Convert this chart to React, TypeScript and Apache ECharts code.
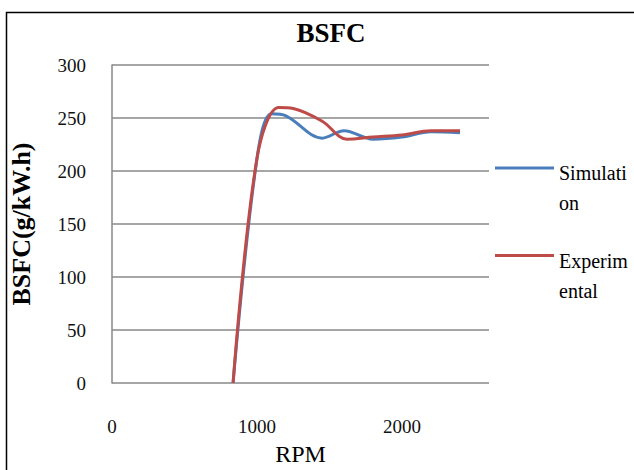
import React, { useEffect, useRef } from "react";
import * as echarts from "echarts";

const xTicks = [0, 1000, 2000];
const yTicks = [0, 50, 100, 150, 200, 250, 300];
const simRpm = [835, 1000, 1100, 1200, 1450, 1600, 1800, 2000, 2200, 2400];
const simBsfc = [0, 212, 254, 252, 231, 238, 230, 232, 237, 236];
const expRpm = [835, 1000, 1150, 1250, 1450, 1620, 1800, 2000, 2200, 2400];
const expBsfc = [0, 212, 260, 259, 247, 230, 232, 234, 238, 238];
const seriesNames = ["Simulation", "Experimental"];
const legendLabels = ["Simulati\non", "Experim\nental"];

const FONT = "'Liberation Serif', 'Times New Roman', serif";
const LEGEND_ICON = "path://M0,0L59,0L59,3L0,3Z M0,42.99L0.01,42.99L0.01,43L0,43Z";

export default function App() {
  const ref = useRef<HTMLDivElement>(null);
  useEffect(() => {
    if (!ref.current) return;
    const chart = echarts.init(ref.current, undefined, { renderer: "svg" });
    const pairs = (xs: number[], ys: number[]) => xs.map((x, i) => [x, ys[i]]);
    chart.setOption({
      animation: false,
      backgroundColor: "#fff",
      textStyle: { fontFamily: FONT },
      title: {
        text: "BSFC",
        left: 331,
        textAlign: "center",
        top: 19,
        padding: 0,
        textStyle: { fontFamily: FONT, fontSize: 27, fontWeight: "bold", color: "#000" },
      },
      graphic: [
        {
          type: "rect",
          shape: { x: 6.5, y: 12.5, width: 700, height: 500 },
          style: { fill: "none", stroke: "#000", lineWidth: 1.5 },
          silent: true,
        },
      ],
      legend: {
        orient: "vertical",
        left: 495,
        top: 158,
        padding: 0,
        itemGap: 27.5,
        itemWidth: 59,
        itemHeight: 43,
        icon: LEGEND_ICON,
        data: seriesNames,
        formatter: (name: string) => legendLabels[seriesNames.indexOf(name)],
        textStyle: {
          fontFamily: FONT,
          fontSize: 20,
          color: "#000",
          lineHeight: 30,
        },
      },
      grid: { left: 112, top: 65, right: 145, bottom: 87, outerBoundsMode: "none", containLabel: false },
      xAxis: {
        type: "value",
        min: xTicks[0],
        max: 2600,
        interval: 1000,
        name: "RPM",
        nameLocation: "middle",
        nameGap: 59,
        nameTextStyle: { fontFamily: FONT, fontSize: 24, color: "#000" },
        axisLine: { show: false },
        axisTick: { show: false },
        splitLine: { show: false },
        axisLabel: {
          margin: 34,
          fontFamily: FONT,
          fontSize: 19,
          color: "#111",
          showMaxLabel: false,
          formatter: (v: number) => (xTicks.includes(v) ? String(v) : ""),
        },
      },
      yAxis: {
        type: "value",
        min: yTicks[0],
        max: yTicks[yTicks.length - 1],
        interval: 50,
        name: "BSFC(g/kW.h)",
        nameLocation: "middle",
        nameGap: 78,
        nameTextStyle: { fontFamily: FONT, fontSize: 26, fontWeight: "bold", color: "#000" },
        axisLine: { show: true, lineStyle: { color: "#888", width: 1.5 } },
        axisTick: { show: false },
        splitLine: { show: true, lineStyle: { color: "#888", width: 1.5 } },
        axisLabel: { margin: 26, fontFamily: FONT, fontSize: 19, color: "#111" },
      },
      series: [
        {
          name: seriesNames[0],
          type: "line",
          data: pairs(simRpm, simBsfc),
          smooth: 0.35,
          showSymbol: false,
          symbol: "none",
          lineStyle: { color: "#4A7EBB", width: 3 },
          itemStyle: { color: "#4A7EBB" },
        },
        {
          name: seriesNames[1],
          type: "line",
          data: pairs(expRpm, expBsfc),
          smooth: 0.35,
          showSymbol: false,
          symbol: "none",
          lineStyle: { color: "#BE4B48", width: 3 },
          itemStyle: { color: "#BE4B48" },
        },
      ],
    });
    return () => chart.dispose();
  }, []);
  return <div ref={ref} style={{ width: 634, height: 470, position: "fixed", left: 0, top: 0 }} />;
}
